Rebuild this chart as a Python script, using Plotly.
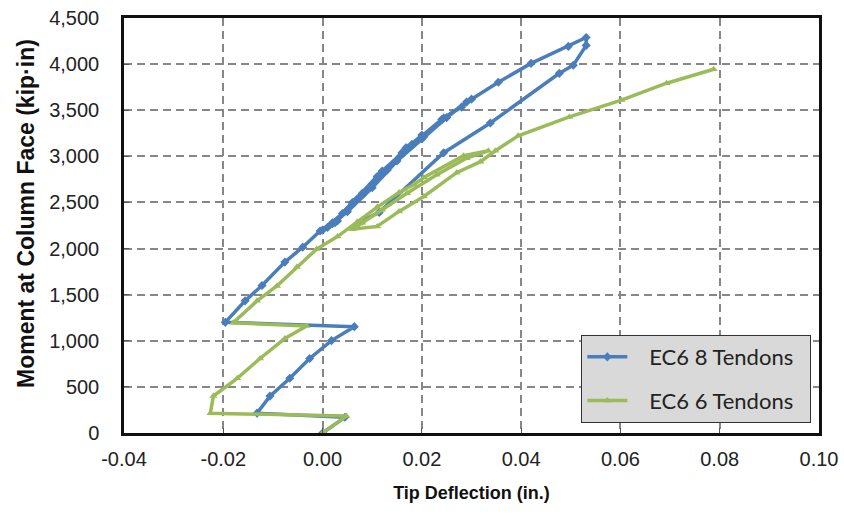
import plotly.graph_objects as go

# EC6 8 Tendons (blue)
blue_x = [0.000, 0.0045, -0.0132, -0.0106, -0.0066, -0.0026, 0.0018, 0.0064,
          -0.0196, -0.0156, -0.0122, -0.0076, -0.0040, -0.0005, 0.0025, 0.0050,
          0.0080, 0.0110, 0.0130, 0.0100, 0.0060, 0.0020, 0.0000, 0.0040,
          0.0080, 0.0120, 0.0160, 0.0200, 0.0170, 0.0120, 0.0070, 0.0030,
          0.0010, 0.0060, 0.0110, 0.0168, 0.0204, 0.0244, 0.0280, 0.0290,
          0.0250, 0.0200, 0.0150, 0.0100, 0.0050, 0.0020, 0.0060, 0.0120,
          0.0180, 0.0240, 0.0300, 0.0354, 0.0420, 0.0495, 0.0531, 0.0531,
          0.0505, 0.0477, 0.0338, 0.0244, 0.0114, 0.0080]
blue_y = [0, 170, 215, 400, 593, 808, 1002, 1153,
          1200, 1433, 1600, 1853, 2015, 2190, 2280, 2420,
          2600, 2780, 2850, 2700, 2480, 2280, 2200, 2380,
          2580, 2800, 3040, 3230, 3090, 2830, 2540, 2300,
          2230, 2480, 2760, 3093, 3211, 3416, 3534, 3588,
          3420, 3190, 2950, 2660, 2400, 2270, 2500, 2840,
          3130, 3400, 3620, 3804, 4008, 4192, 4289, 4203,
          3987, 3900, 3362, 3039, 2392, 2300]

# EC6 6 Tendons (green)
green_x = [0.000, 0.0048, -0.0226, -0.0220, -0.0172, -0.0126, -0.0076, -0.0032,
           -0.0180, -0.0132, -0.0092, -0.0052, -0.0012, 0.0030, 0.0070, 0.0110,
           0.0154, 0.0184, 0.0204, 0.0284, 0.0334, 0.0290, 0.0230, 0.0170,
           0.0120, 0.0080, 0.0060, 0.0110, 0.0154, 0.0204, 0.0270, 0.0318,
           0.0348, 0.0394, 0.0497, 0.0602, 0.0693, 0.0788]
green_y = [0, 183, 215, 400, 593, 808, 1024, 1160,
           1196, 1433, 1595, 1800, 1994, 2130, 2290, 2450,
           2608, 2694, 2770, 3007, 3060, 2980, 2800, 2600,
           2420, 2280, 2209, 2240, 2403, 2565, 2823, 2942,
           3060, 3222, 3427, 3610, 3793, 3944]

x_ticks = [-0.04, -0.02, 0.00, 0.02, 0.04, 0.06, 0.08, 0.10]
y_ticks = [0, 500, 1000, 1500, 2000, 2500, 3000, 3500, 4000, 4500]

NB = "\u00a0"

fig = go.Figure()
fig.add_trace(go.Scatter(
    x=blue_x, y=blue_y, mode="lines+markers", name=NB * 3 + "EC6 8 Tendons" + NB * 2,
    legendgroup="a",
    line=dict(color="#4a7ebb", width=3.5),
    marker=dict(symbol="diamond", size=7, color="#4a7ebb"),
))
fig.add_trace(go.Scatter(
    x=green_x, y=green_y, mode="lines+markers", name=NB * 3 + "EC6 6 Tendons" + NB * 2,
    legendgroup="b",
    line=dict(color="#9bbb59", width=3.5),
    marker=dict(symbol="triangle-up", size=7, color="#9bbb59"),
))

axis_font = dict(family="Liberation Sans, Arial, sans-serif", size=20, color="#222222")
xtitle_font = dict(family="Liberation Sans, Arial, sans-serif", size=18, color="#111111")
ytitle_font = dict(family="Liberation Sans, Arial, sans-serif", size=23, color="#111111")

fig.update_layout(
    width=844, height=518,
    margin=dict(l=124, r=25, t=18, b=85),
    paper_bgcolor="white", plot_bgcolor="white",
    showlegend=True,
    legend=dict(
        x=0.658, y=0.236, xanchor="left", yanchor="top",
        bgcolor="#d9d9d9", bordercolor="#333333", borderwidth=1,
        font=dict(family="Lato, Open Sans, sans-serif", size=22, color="#222222"),
        tracegroupgap=12, traceorder="grouped",
        itemwidth=40,
    ),
    xaxis=dict(
        range=[-0.04, 0.10], tickvals=x_ticks,
        ticktext=[f"{v:.2f}" for v in x_ticks],
        tickfont=axis_font,
        title=dict(text="<b>Tip Deflection (in.)</b>", font=xtitle_font, standoff=18),
        showgrid=True, gridcolor="#878787", gridwidth=2, griddash="8px,5px",
        zeroline=False,
        showline=True, mirror=True, linecolor="#111111", linewidth=2.5,
        ticks="inside", ticklen=5, tickcolor="#555555", tickwidth=1,
        ticklabelstandoff=6,
        automargin=False,
    ),
    yaxis=dict(
        range=[0, 4500], tickvals=y_ticks,
        ticktext=[f"{v:,}" for v in y_ticks],
        tickfont=axis_font,
        showgrid=True, gridcolor="#878787", gridwidth=2, griddash="8px,5px",
        zeroline=False,
        showline=True, mirror=True, linecolor="#111111", linewidth=2.5,
        ticks="inside", ticklen=5, tickcolor="#555555", tickwidth=1,
        ticklabelstandoff=18,
        automargin=False,
    ),
    annotations=[dict(
        text="<b>Moment at Column Face (kip·in)</b>",
        font=ytitle_font, textangle=-90,
        xref="paper", yref="paper",
        x=(26 - 124) / 695, y=(433 - 214) / 415,
        xanchor="center", yanchor="middle", showarrow=False,
    )],
)

fig.write_html("out.html")
